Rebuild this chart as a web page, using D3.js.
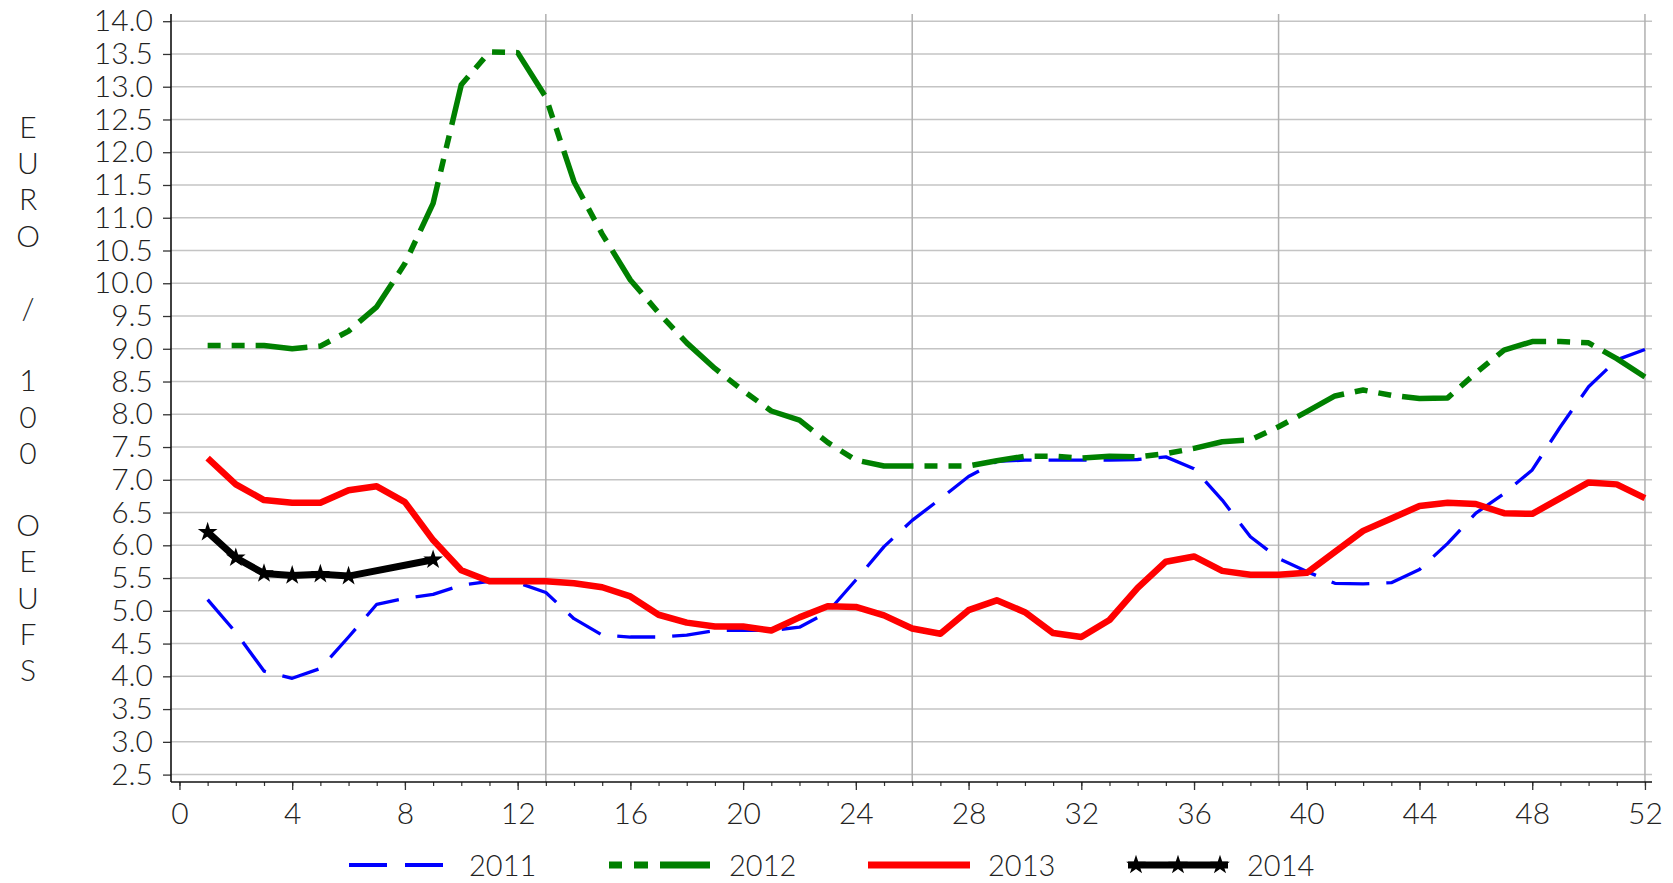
<!DOCTYPE html>
<html>
<head>
<meta charset="utf-8">
<script src="https://cdn.jsdelivr.net/npm/d3@7"></script>
<style>
  html, body { margin: 0; padding: 0; background: #fff; }
  svg text { font-family: Lato, "Open Sans", sans-serif; font-weight: 300; fill: #222; }
</style>
</head>
<body>
<svg id="chart" width="1673" height="883"></svg>
<script>
// ---- data ----
const weeks = [1,2,3,4,5,6,7,8,9,10,11,12,13,14,15,16,17,18,19,20,21,22,23,24,25,26,
               27,28,29,30,31,32,33,34,35,36,37,38,39,40,41,42,43,44,45,46,47,48,49,50,51,52];
const s2011 = [5.17,4.67,4.08,3.97,4.12,4.60,5.10,5.19,5.25,5.39,5.45,5.43,5.28,4.88,4.63,4.60,4.60,4.63,4.70,4.70,
               4.70,4.75,4.98,5.47,5.98,6.38,6.71,7.05,7.28,7.30,7.30,7.30,7.30,7.31,7.35,7.17,6.69,6.13,5.80,5.60,
               5.42,5.41,5.43,5.63,6.03,6.49,6.79,7.15,7.81,8.42,8.83,8.99];
const s2012 = [9.05,9.05,9.05,9.00,9.04,9.27,9.64,10.30,11.22,13.03,13.53,13.52,12.84,11.55,10.75,10.05,9.55,9.09,8.70,8.36,
               8.05,7.91,7.57,7.30,7.21,7.21,7.21,7.21,7.29,7.36,7.36,7.33,7.36,7.35,7.40,7.48,7.58,7.61,7.81,8.04,
               8.28,8.37,8.29,8.24,8.25,8.63,8.98,9.11,9.11,9.09,8.85,8.57];
const s2013 = [7.33,6.93,6.69,6.65,6.65,6.84,6.90,6.66,6.08,5.62,5.45,5.45,5.45,5.42,5.36,5.22,4.94,4.82,4.76,4.76,
               4.70,4.90,5.07,5.06,4.93,4.73,4.65,5.01,5.16,4.98,4.66,4.60,4.86,5.35,5.75,5.83,5.61,5.55,5.55,5.58,
               5.90,6.22,6.41,6.60,6.65,6.63,6.49,6.48,6.72,6.96,6.93,6.72];
const weeks2014 = [1,2,3,4,5,6,9];
const s2014 = [6.20,5.81,5.57,5.54,5.56,5.53,5.78];
const seriesNames = ["2011","2012","2013","2014"];
const yTickValues = [2.5,3.0,3.5,4.0,4.5,5.0,5.5,6.0,6.5,7.0,7.5,8.0,8.5,9.0,9.5,10.0,10.5,11.0,11.5,12.0,12.5,13.0,13.5,14.0];
const xMajorTicks = [0,4,8,12,16,20,24,28,32,36,40,44,48,52];
const xGridWeeks = [13,26,39,52];
const yTitle = "EURO / 100 OEUFS";

// ---- layout ----
const svg = d3.select("#chart");
const x = d3.scaleLinear().domain([-0.3, 52.25]).range([171, 1652]);
const y = d3.scaleLinear().domain([2.387, 14.11]).range([782, 14]);
const xL = x(-0.3), xR = x(52.25), yB = y(2.387), yT = y(14.11);

// horizontal grid
svg.append("g").selectAll("line").data(yTickValues).join("line")
  .attr("x1", xL).attr("x2", xR)
  .attr("y1", d => y(d)).attr("y2", d => y(d))
  .attr("stroke", "#c4c4c4").attr("stroke-width", 1.5);
// vertical grid
svg.append("g").selectAll("line").data(xGridWeeks).join("line")
  .attr("x1", d => x(d)).attr("x2", d => x(d))
  .attr("y1", yT).attr("y2", yB)
  .attr("stroke", "#b0b0b0").attr("stroke-width", 1.5);

// y axis
const yAxis = d3.axisLeft(y).tickValues(yTickValues).tickFormat(d3.format(".1f")).tickSize(8).tickPadding(10);
const gy = svg.append("g").attr("transform", `translate(${xL},0)`).call(yAxis);
gy.select(".domain").remove();
gy.selectAll(".tick line").attr("stroke", "#333").attr("stroke-width", 1.3);
gy.selectAll("text").attr("font-size", 30).attr("font-family", "Lato, sans-serif").attr("font-weight", 300).attr("fill", "#222");
svg.append("line").attr("x1", xL).attr("x2", xL).attr("y1", yT).attr("y2", yB)
  .attr("stroke", "#111").attr("stroke-width", 1.6);

// x axis: minor ticks
const gx = svg.append("g").attr("transform", `translate(0,${yB})`);
gx.call(d3.axisBottom(x).tickValues(d3.range(0, 53)).tickSize(4).tickFormat(""));
gx.select(".domain").remove();
gx.selectAll(".tick line").attr("stroke", "#333").attr("stroke-width", 1.2);
const gx2 = svg.append("g").attr("transform", `translate(0,${yB})`);
gx2.call(d3.axisBottom(x).tickValues(xMajorTicks).tickSize(8).tickPadding(13).tickFormat(d3.format("d")));
gx2.select(".domain").remove();
gx2.selectAll(".tick line").attr("stroke", "#333").attr("stroke-width", 1.3);
gx2.selectAll("text").attr("font-size", 30).attr("font-family", "Lato, sans-serif").attr("font-weight", 300).attr("fill", "#222");
svg.append("line").attr("x1", xL).attr("x2", xR).attr("y1", yB).attr("y2", yB)
  .attr("stroke", "#111").attr("stroke-width", 1.6);

// y title stacked letters
const yt = svg.append("text").attr("x", 28).attr("y", 138).attr("text-anchor", "middle")
  .attr("font-size", 30);
yTitle.split("").forEach((ch, i) => {
  yt.append("tspan").attr("x", 28).attr("dy", i === 0 ? 0 : 36.2).text(ch === " " ? "\u00a0" : ch);
});

// ---- lines ----
const line = d3.line().x(d => x(d[0])).y(d => y(d[1]));
const styles = {
  "2011": {color: "#0000ff", width: 3.3, dash: "38,17"},
  "2012": {color: "#008000", width: 5.5, dash: "13,11,13,11,52,11"},
  "2013": {color: "#ff0000", width: 6.5, dash: null},
  "2014": {color: "#000000", width: 7, dash: null}
};
const data = {
  "2011": weeks.map((w, i) => [w, s2011[i]]),
  "2012": weeks.map((w, i) => [w, s2012[i]]),
  "2013": weeks.map((w, i) => [w, s2013[i]]),
  "2014": weeks2014.map((w, i) => [w, s2014[i]])
};
seriesNames.forEach(name => {
  const st = styles[name];
  svg.append("path").datum(data[name]).attr("d", line)
    .attr("fill", "none").attr("stroke", st.color).attr("stroke-width", st.width)
    .attr("stroke-linejoin", "round").attr("stroke-linecap", "butt")
    .attr("stroke-dasharray", st.dash);
});
const star = d3.symbol().type(d3.symbolStar).size(120);
svg.append("g").selectAll("path").data(data["2014"]).join("path")
  .attr("d", star).attr("transform", d => `translate(${x(d[0])},${y(d[1])})`)
  .attr("fill", "#000");

// ---- legend ----
const legendItems = [
  {name: "2011", x1: 349, x2: 443, tx: 469},
  {name: "2012", x1: 609, x2: 711, tx: 729},
  {name: "2013", x1: 868, x2: 970, tx: 988},
  {name: "2014", x1: 1128, x2: 1228, tx: 1247}
];
const ly = 865;
legendItems.forEach(it => {
  const st = styles[it.name];
  svg.append("line").attr("x1", it.x1).attr("x2", it.x2).attr("y1", ly).attr("y2", ly)
    .attr("stroke", st.color).attr("stroke-width", it.name === "2011" ? 4 : 7)
    .attr("stroke-dasharray", it.name === "2011" ? "38,18" : (it.name === "2012" ? "13,12,14,12,50" : null));
  if (it.name === "2014") {
    [it.x1 + 8, (it.x1 + it.x2) / 2, it.x2 - 8].forEach(sx => {
      svg.append("path").attr("d", star).attr("transform", `translate(${sx},${ly})`).attr("fill", "#000");
    });
  }
  svg.append("text").attr("x", it.tx).attr("y", 876).attr("font-size", 29).text(it.name);
});
</script>
</body>
</html>
